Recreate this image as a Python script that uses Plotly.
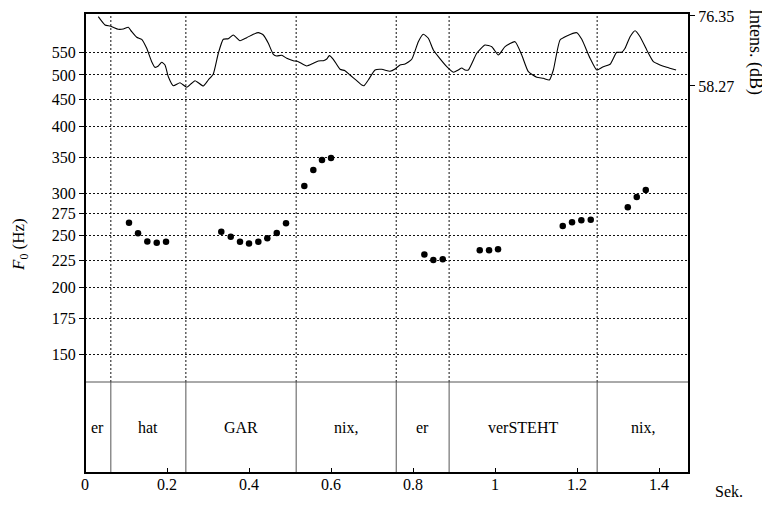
import math
import plotly.graph_objects as go

# ---- data ----
f0_ticks = [150, 175, 200, 225, 250, 275, 300, 350, 400, 450, 500, 550]
x_ticks = [0, 0.2, 0.4, 0.6, 0.8, 1.0, 1.2, 1.4]
x_ticklabels = ["0", "0.2", "0.4", "0.6", "0.8", "1", "1.2", "1.4"]
int_ticks = [58.27, 76.35]

seg_bounds = [0.0, 0.063, 0.246, 0.515, 0.759, 0.888, 1.249, 1.473]
seg_labels = ["er", "hat", "GAR", "nix,", "er", "verSTEHT", "nix,"]

f0_t = [0.1073, 0.1293, 0.1520, 0.1749, 0.1976,
        0.3324, 0.3554, 0.3780, 0.4000, 0.4227, 0.4446, 0.4676, 0.4902,
        0.5349, 0.5568, 0.5780, 0.6000,
        0.8276, 0.8495, 0.8724,
        0.9627, 0.9854, 1.0073,
        1.1651, 1.1878, 1.2105, 1.2334,
        1.3237, 1.3456, 1.3676]
f0_hz = [264.4, 252.6, 244.0, 242.6, 243.6,
         254.3, 248.9, 243.6, 241.9, 243.6, 247.2, 252.9, 263.7,
         309.7, 331.8, 346.4, 349.4,
         230.7, 225.1, 225.8,
         234.8, 234.8, 235.8,
         260.7, 264.9, 267.2, 267.9,
         282.6, 295.4, 304.4]

int_t = [0.0324, 0.0488, 0.0610, 0.0690, 0.0810, 0.0934, 0.1056, 0.1139, 0.1261, 0.1383,
         0.1505, 0.1627, 0.1707, 0.1788, 0.1871, 0.1951, 0.2032, 0.2154, 0.2317, 0.2480,
         0.2602, 0.2683, 0.2763, 0.2885, 0.3007, 0.3129, 0.3251, 0.3373, 0.3495, 0.3617,
         0.3780, 0.3944, 0.4105, 0.4227, 0.4349, 0.4471, 0.4593, 0.4676, 0.4798, 0.4920,
         0.5080, 0.5202, 0.5407, 0.5568, 0.5690, 0.5812, 0.5895, 0.5959, 0.6056, 0.6220,
         0.6341, 0.6463, 0.6627, 0.6749, 0.6805, 0.6910, 0.7073, 0.7237, 0.7439, 0.7561,
         0.7683, 0.7805, 0.7968, 0.8129, 0.8251, 0.8373, 0.8495, 0.8617, 0.8822, 0.8983,
         0.9105, 0.9188, 0.9268, 0.9349, 0.9554, 0.9756, 0.9920, 1.0080, 1.0244, 1.0488,
         1.0651, 1.0812, 1.1017, 1.1178, 1.1324, 1.1422, 1.1585, 1.1749, 1.1993, 1.2115,
         1.2317, 1.2480, 1.2641, 1.2805, 1.2968, 1.3090, 1.3171, 1.3293, 1.3415, 1.3537,
         1.3700, 1.3861, 1.4024, 1.4188, 1.4415]
int_db = [76.17, 74.03, 73.77, 73.43, 72.92, 72.99, 73.43, 72.30, 70.85, 70.33,
          68.01, 64.55, 63.10, 63.44, 64.39, 63.70, 60.67, 58.35, 59.12, 57.94,
          58.97, 59.64, 59.12, 58.27, 59.82, 61.37, 66.72, 70.33, 70.49, 71.44,
          69.97, 70.75, 71.62, 72.04, 71.44, 69.30, 66.46, 66.02, 66.20, 65.43,
          64.81, 64.55, 63.44, 64.13, 64.73, 64.81, 65.24, 66.10, 65.17, 62.58,
          62.22, 61.11, 59.64, 58.53, 58.35, 59.82, 62.40, 62.58, 62.07, 62.66,
          63.70, 63.95, 65.17, 69.71, 71.62, 70.59, 67.57, 65.84, 63.26, 61.81,
          62.40, 62.92, 62.40, 62.40, 66.72, 68.86, 68.42, 66.28, 68.42, 69.71,
          66.28, 61.97, 60.52, 60.26, 59.82, 62.40, 70.15, 71.19, 72.04, 70.33,
          65.43, 62.40, 63.26, 63.88, 66.97, 66.97, 68.01, 71.00, 72.55, 71.00,
          67.57, 64.55, 63.70, 63.10, 62.40]

# ---- layout geometry (page body has an 8px margin) ----
W, H = 762, 497
ml, mr, mt, mb = 77, 81, 5, 32
plot_h = H - mt - mb
tier_frac = 91 / plot_h


def paper_y(page_px):
    """convert a page pixel row to paper fraction"""
    return 1 - (page_px - 8 - mt) / plot_h


FONT = "Liberation Serif"
DOT = "2px,2px"

fig = go.Figure()

fig.add_trace(go.Scatter(
    x=int_t, y=int_db, mode="lines", yaxis="y2", xaxis="x",
    line=dict(color="black", width=1.1, shape="spline", smoothing=0.5),
    hoverinfo="skip", showlegend=False))

fig.add_trace(go.Scatter(
    x=f0_t, y=f0_hz, mode="markers", yaxis="y", xaxis="x",
    marker=dict(color="black", size=6.5),
    showlegend=False))

shapes = []
for b in seg_bounds[1:-1]:
    shapes.append(dict(type="line", xref="x", yref="paper", x0=b, x1=b,
                       y0=tier_frac, y1=1, line=dict(color="#111", width=1, dash=DOT),
                       layer="below"))
    shapes.append(dict(type="line", xref="x", yref="paper", x0=b, x1=b,
                       y0=0, y1=tier_frac, line=dict(color="#555", width=1)))
shapes.append(dict(type="line", xref="paper", yref="paper", x0=0, x1=1,
                   y0=tier_frac, y1=tier_frac, line=dict(color="#555", width=1)))
shapes.append(dict(type="rect", xref="paper", yref="paper", x0=0, x1=1, y0=0, y1=1,
                   line=dict(color="black", width=2)))

annotations = []
for i, lab in enumerate(seg_labels):
    annotations.append(dict(x=(seg_bounds[i] + seg_bounds[i + 1]) / 2, y=0.5,
                            xref="x", yref="y3", text=lab, showarrow=False,
                            font=dict(family=FONT, size=16, color="black")))
annotations.append(dict(x=1.0, y=0, xref="paper", yref="paper", xanchor="left",
                        yanchor="top", xshift=24, yshift=-8, text="Sek.", showarrow=False,
                        font=dict(family=FONT, size=16, color="black")))
annotations.append(dict(x=1.0, y=paper_y(52), xref="paper", yref="paper",
                        xanchor="center", yanchor="middle", xshift=66,
                        text="Intens. (dB)", textangle=90, showarrow=False,
                        font=dict(family=FONT, size=18, color="black")))
annotations.append(dict(x=0, y=paper_y(245), xref="paper", yref="paper",
                        xanchor="center", yanchor="middle", xshift=-65,
                        text="<i>F</i><sub>0</sub> (Hz)", textangle=-90, showarrow=False,
                        font=dict(family=FONT, size=17, color="black")))

fig.update_layout(
    template="none",
    width=W, height=H,
    margin=dict(l=ml, r=mr, t=mt, b=mb, pad=0, autoexpand=False),
    paper_bgcolor="white", plot_bgcolor="white",
    font=dict(family=FONT, size=16, color="black"),
    showlegend=False,
    xaxis=dict(anchor="y3", range=[0, 1.473], tickvals=x_ticks, ticktext=x_ticklabels,
               ticks="inside", ticklen=5, tickcolor="black", tickwidth=1,
               showgrid=False, zeroline=False, showline=False, automargin=False,
               tickfont=dict(family=FONT, size=16, color="black")),
    yaxis=dict(type="log", domain=[tier_frac, 1],
               range=[math.log10(133.1), math.log10(652.9)],
               tickvals=f0_ticks, ticktext=[str(v) for v in f0_ticks],
               ticks="outside", ticklen=5, tickcolor="black", tickwidth=1,
               showgrid=True, gridcolor="#111", griddash=DOT, gridwidth=1,
               zeroline=False, showline=False, anchor="x", automargin=False,
               tickfont=dict(family=FONT, size=16, color="black")),
    yaxis2=dict(overlaying="y", side="right", anchor="x", range=[-18.18, 77.12],
                tickvals=int_ticks, ticktext=["58.27", "76.35"],
                ticks="outside", ticklen=5, tickcolor="black", tickwidth=1,
                ticklabeloverflow="allow",
                showgrid=False, zeroline=False, showline=False, automargin=False,
                tickfont=dict(family=FONT, size=16, color="black")),
    yaxis3=dict(domain=[0, tier_frac], range=[0, 1], anchor="x", automargin=False,
                showticklabels=False, ticks="", showgrid=False, zeroline=False),
    shapes=shapes,
    annotations=annotations,
)

fig.write_html("out.html")
